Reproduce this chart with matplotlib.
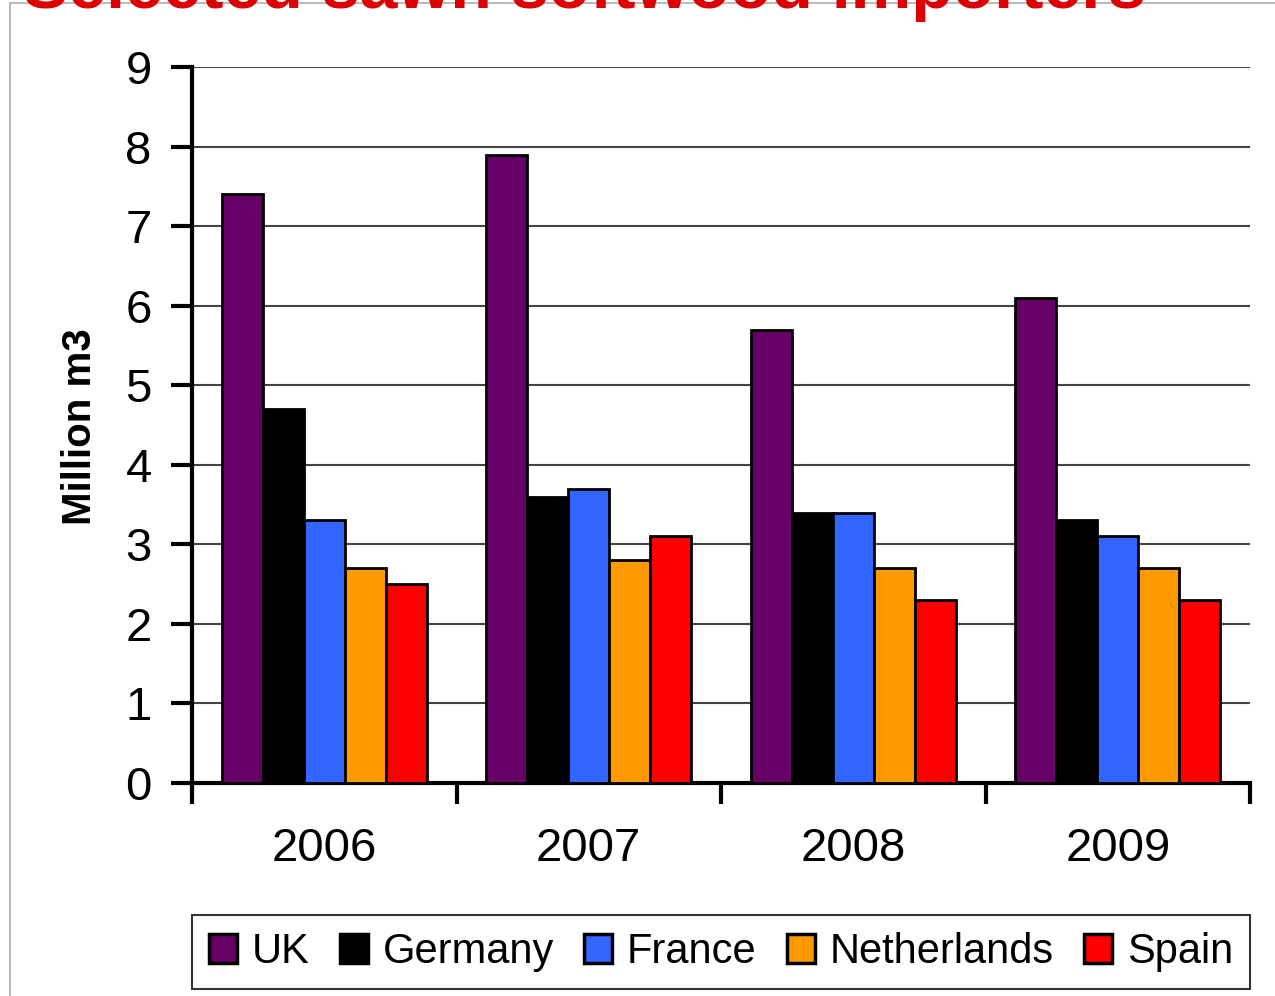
import numpy as np
import matplotlib.pyplot as plt
from matplotlib.lines import Line2D
from matplotlib.patches import Patch

plt.rcParams['font.family'] = ['Liberation Sans', 'DejaVu Sans']

years = ["2006", "2007", "2008", "2009"]
countries = ["UK", "Germany", "France", "Netherlands", "Spain"]
uk = [7.4, 7.9, 5.7, 6.1]
germany = [4.7, 3.6, 3.4, 3.3]
france = [3.3, 3.7, 3.4, 3.1]
netherlands = [2.7, 2.8, 2.7, 2.7]
spain = [2.5, 3.1, 2.3, 2.3]
colours = ["#660066", "#000000", "#3366FF", "#FF9900", "#FF0000"]

series = [uk, germany, france, netherlands, spain]

fig = plt.figure(figsize=(12.75, 9.96), dpi=100)
ax = fig.add_axes([192/1275, 1-783/996, (1250-192)/1275, (783-67)/996])

x = np.arange(len(years))
w = 0.155
for i, (vals, col) in enumerate(zip(series, colours)):
    ax.bar(x + (i - 2) * w, vals, w, color=col, edgecolor='black', linewidth=2, zorder=3)

ax.set_xlim(-0.5, len(years) - 0.5)
ax.set_ylim(0, 9)
ax.set_yticks(range(0, 10))
ax.yaxis.grid(True, color='#444444', linewidth=1.5, zorder=0)
ax.tick_params(axis='y', labelsize=34, length=15, width=3, pad=14)

# group boundaries get the tick marks, year labels sit in between
ax.set_xticks(np.arange(-0.5, len(years), 1.0))
ax.set_xticklabels([])
ax.set_xticks(x, minor=True)
ax.set_xticklabels(years, minor=True)
ax.tick_params(axis='x', which='major', length=15, width=3, direction='out')
ax.tick_params(axis='x', which='minor', length=0, labelsize=34, pad=32)

for s in ['top', 'right']:
    ax.spines[s].set_visible(False)
for s in ['left', 'bottom']:
    ax.spines[s].set_linewidth(3)

fig.text(80/1275, 1-427/996, "Million m3", rotation=90, ha='center', va='center',
         fontsize=29, fontweight='bold')

fig.text(584/1275, 1-8/996, "Selected sawn softwood importers", ha='center', va='baseline',
         fontsize=49, fontweight='bold', color='#DD0000')

# frame edges along the left and top of the slide
fig.add_artist(Line2D([10/1275, 10/1275], [0, 1-3/996], color='#BBBBBB', lw=1.5))
fig.add_artist(Line2D([10/1275, 1], [1-3/996, 1-3/996], color='#BBBBBB', lw=1.5))

handles = [Patch(facecolor=c, edgecolor='black', linewidth=2.5) for c in colours]
leg = fig.legend(handles, countries, loc='center', bbox_to_anchor=(721/1275, 1-952/996),
                 ncol=5, fontsize=30, frameon=True, fancybox=False, edgecolor='black',
                 handlelength=0.68, handleheight=0.68, handletextpad=0.35,
                 columnspacing=0.72, borderpad=0.4, borderaxespad=0)
leg.get_frame().set_linewidth(1.5)

fig.savefig('out.png', dpi=100)
